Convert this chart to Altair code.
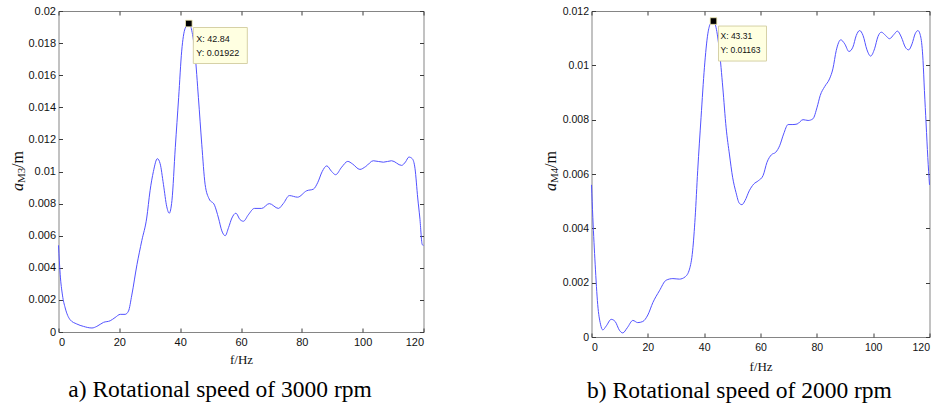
import altair as alt
import pandas as pd

# ---------------- data ----------------
f3000 = [0, 0.55, 1.3, 2.2, 3.8, 6, 8.2, 11, 12.6, 14.8, 17, 18.6, 20.3, 21.9, 23, 24.1,
         25.8, 27.4, 29, 30.1, 31.2, 32.5, 33.4, 34.5, 35.6, 36.4, 37.3, 38.4, 39.5, 40.5,
         41.6, 42.84, 43.8, 44.9, 46, 47.1, 48.2, 49.5, 51.3, 52.6, 53.7, 54.8, 55.9, 57,
         58.3, 59.7, 60.8, 62.4, 64.4, 66.8, 69.3, 72.3, 73.9, 75.9, 78.6, 81.6, 83.8, 85.2,
         86.7, 88.2, 89.8, 91.1, 93.1, 95.1, 96.6, 99.1, 101, 103.5, 106.8, 109.5, 112.8,
         114.1, 115.2, 116.3, 117.2, 118.1, 118.8, 119.6, 120]
a3000 = [0.0054, 0.0036, 0.0023, 0.0015, 0.00077, 0.0005, 0.00035, 0.00025, 0.00035, 0.0006,
         0.0007, 0.0009, 0.0011, 0.0011, 0.0013, 0.0023, 0.0042, 0.0057, 0.0071, 0.0088,
         0.0100, 0.0108, 0.0105, 0.0092, 0.0078, 0.0074, 0.0082, 0.0115, 0.0146, 0.0175,
         0.0189, 0.01922, 0.0188, 0.0173, 0.0146, 0.0117, 0.0092, 0.0083, 0.0079, 0.0071,
         0.0063, 0.0060, 0.0065, 0.0071, 0.0074, 0.0070, 0.0069, 0.0073, 0.0077, 0.0077,
         0.0080, 0.0077, 0.0080, 0.0085, 0.0084, 0.0088, 0.0089, 0.0093, 0.0100, 0.01035,
         0.0100, 0.0098, 0.01027, 0.01063, 0.01048, 0.01013, 0.01031, 0.01067, 0.01058,
         0.01067, 0.01038, 0.0106, 0.0109, 0.0108, 0.0102, 0.00835, 0.0071, 0.00544, 0.0054]

f2000 = [0, 0.47, 1.3, 2.2, 3.2, 4, 5.2, 7, 8.4, 9.9, 11.1, 12.7, 14.7, 16.4, 18.2, 20,
         21.8, 24.1, 26.5, 28.9, 31.2, 33.2, 34.8, 35.9, 36.8, 37.7, 38.9, 40.1, 41.3, 42.2,
         43.31, 44.2, 45.4, 46.6, 47.8, 49, 50.1, 51.3, 52.5, 53.4, 54.5, 56, 57.6, 59.2,
         60.9, 62.3, 63.9, 65.4, 66.8, 68.2, 69.8, 71.5, 73, 75.1, 76.9, 78.6, 80.1, 81.2,
         82.8, 84.5, 85.7, 86.9, 88.5, 89.9, 91.4, 92.8, 94, 95.2, 96.4, 97.8, 99.1, 100.5,
         101.7, 102.9, 104.4, 105.8, 107.4, 108.6, 110, 111.4, 112.6, 113.8, 114.9, 115.9,
         116.9, 117.7, 118.2, 118.8, 119.4, 120]
a2000 = [0.0056, 0.0044, 0.00268, 0.0012, 0.00047, 0.00026, 0.0004, 0.00065, 0.00057,
         0.00025, 0.00015, 0.00034, 0.00061, 0.00053, 0.00057, 0.00081, 0.00127, 0.0017,
         0.00209, 0.00215, 0.00213, 0.00221, 0.0025, 0.00317, 0.0044, 0.00612, 0.00809,
         0.00993, 0.01116, 0.01153, 0.01163, 0.0114, 0.01055, 0.0092, 0.0077, 0.0067,
         0.00588, 0.00532, 0.00492, 0.00487, 0.00502, 0.00538, 0.00563, 0.00575, 0.00594,
         0.00643, 0.00671, 0.0068, 0.00704, 0.00747, 0.00782, 0.00782, 0.00784, 0.008,
         0.00797, 0.00803, 0.00846, 0.00889, 0.00922, 0.0095, 0.00987, 0.01055, 0.01094,
         0.01079, 0.01051, 0.01067, 0.0111, 0.01128, 0.0111, 0.01057, 0.01034, 0.01061,
         0.01106, 0.01122, 0.0111, 0.01098, 0.01114, 0.01126, 0.01104, 0.01067, 0.01057,
         0.01079, 0.01116, 0.01128, 0.01104, 0.01018, 0.00907, 0.00784, 0.00661, 0.0056]

peak3000_f = [42.84]
peak3000_a = [0.01922]
peak2000_f = [43.31]
peak2000_a = [0.01163]

xticks = [0, 20, 40, 60, 80, 100, 120]
yticks3000 = [0, 0.002, 0.004, 0.006, 0.008, 0.01, 0.012, 0.014, 0.016, 0.018, 0.02]
yticks2000 = [0, 0.002, 0.004, 0.006, 0.008, 0.01, 0.012]
captions = ["a) Rotational speed of 3000 rpm", "b) Rotational speed of 2000 rpm"]
subscripts = ["M3", "M4"]

SANS = "Liberation Sans"
SERIF = "Liberation Serif"
LINE = "#5252ff"
TICK = "#3c3c3c"
TXT = "#111111"


def panel(f, a, pf, pa, ymax, yticks, sub, caption, w, h, lab_fs, tip_fs,
          box_w, box_h, box_dx, box_dy, tip_dx, lab_pad, title_pad, cap_off):
    df = pd.DataFrame({"f": f, "a": a})
    pk = pd.DataFrame({"f": pf, "a": pa})
    pk["tx"] = ["X: " + str(v) for v in pf]
    pk["ty"] = ["Y: " + str(v) for v in pa]
    one = pd.DataFrame({"k": [0]})

    xs = alt.Scale(domain=[0, 120], nice=False, zero=False)
    ys = alt.Scale(domain=[0, ymax], nice=False, zero=False)
    common = dict(domain=False, ticks=True, tickSize=4, offset=-4, tickColor=TICK,
                  tickWidth=1, grid=False)
    xb = alt.Axis(orient="bottom", values=xticks, labelFont=SANS, labelFontSize=lab_fs,
                  labelColor=TXT, labelPadding=lab_pad, title="f/Hz", titleFont=SERIF,
                  titleFontSize=13, titleFontWeight="normal", titleColor=TXT,
                  titlePadding=title_pad, **common)
    yl = alt.Axis(orient="left", values=yticks, format="~g", labelFont=SANS,
                  labelFontSize=lab_fs, labelColor=TXT, labelPadding=3, title=None,
                  **common)
    xt = alt.Axis(orient="top", values=xticks, labels=False, title=None, **common)
    yr = alt.Axis(orient="right", values=yticks, labels=False, title=None, **common)

    line = alt.Chart(df).mark_line(color=LINE, strokeWidth=1, interpolate="monotone").encode(
        x=alt.X("f:Q", scale=xs, axis=xb),
        y=alt.Y("a:Q", scale=ys, axis=yl),
    )
    ratio = box_h / box_w
    path = f"M-1,-{ratio:.3f}H1V{ratio:.3f}H-1Z"
    box = alt.Chart(pk).mark_point(
        shape=path, size=box_w ** 2, filled=True, fill="#ffffe1", stroke="#d6d1a6",
        strokeWidth=1, opacity=1, fillOpacity=1, strokeOpacity=1,
        xOffset=box_dx, yOffset=box_dy,
    ).encode(x=alt.X("f:Q", scale=xs, axis=xt), y=alt.Y("a:Q", scale=ys, axis=yr))
    marker = alt.Chart(pk).mark_square(
        size=44, color="black", stroke="#f2ecb0", strokeWidth=0.8, opacity=1
    ).encode(x=alt.X("f:Q", scale=xs, axis=None), y=alt.Y("a:Q", scale=ys, axis=None))
    tipx = alt.Chart(pk).mark_text(
        align="left", baseline="alphabetic", font=SANS, fontSize=tip_fs, color=TXT,
        dx=tip_dx, dy=18,
    ).encode(x=alt.X("f:Q", scale=xs, axis=None), y=alt.Y("a:Q", scale=ys, axis=None),
             text="tx:N")
    tipy = alt.Chart(pk).mark_text(
        align="left", baseline="alphabetic", font=SANS, fontSize=tip_fs, color=TXT,
        dx=tip_dx, dy=32,
    ).encode(x=alt.X("f:Q", scale=xs, axis=None), y=alt.Y("a:Q", scale=ys, axis=None),
             text="ty:N")

    # composite y-axis title: italic a, subscript, "/m"
    ya = alt.Chart(one).mark_text(
        text="a", angle=270, align="left", baseline="alphabetic", font=SERIF,
        fontStyle="italic", fontSize=16, color=TXT,
    ).encode(x=alt.value(-36), y=alt.value(180))
    ysub = alt.Chart(one).mark_text(
        text=sub, angle=270, align="left", baseline="alphabetic", font=SERIF,
        fontSize=11, color=TXT,
    ).encode(x=alt.value(-33.5), y=alt.value(172))
    ym = alt.Chart(one).mark_text(
        text="/m", angle=270, align="left", baseline="alphabetic", font=SERIF,
        fontSize=16, color=TXT,
    ).encode(x=alt.value(-36), y=alt.value(157))

    return alt.layer(line, box, marker, tipx, tipy, ya, ysub, ym).resolve_axis(
        x="independent", y="independent"
    ).properties(
        width=w, height=h,
        title=alt.TitleParams(text=caption, orient="bottom", anchor="middle", font=SERIF,
                              fontSize=23.5, fontWeight="normal", color="black",
                              offset=cap_off, dx=-21),
    )


left = panel(f3000, a3000, peak3000_f, peak3000_a, 0.02, yticks3000, subscripts[0],
             captions[0], 365, 321, 11, 9, 54, 36, 31.5, 22, 7.4, 4, 6, 12)
right = panel(f2000, a2000, peak2000_f, peak2000_a, 0.012, yticks2000, subscripts[1],
              captions[1], 338, 326, 10.5, 8.5, 48, 35, 29, 22.5, 7, 5, 8, 5)

chart = alt.hconcat(left, right, spacing=168, bounds="flush").properties(
    padding={"left": 8.5, "top": 4, "right": 5, "bottom": 5},
    background="white",
).configure_view(stroke="#858585", strokeWidth=1)

chart.save("out.html", embed_options={"renderer": "svg", "actions": False})
